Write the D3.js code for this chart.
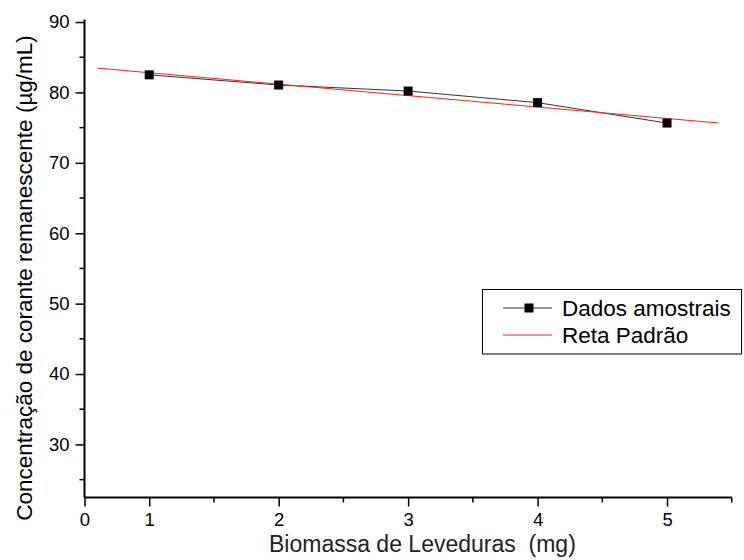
<!DOCTYPE html>
<html>
<head>
<meta charset="utf-8">
<script src="https://cdn.jsdelivr.net/npm/d3@7"></script>
<style>
  html, body { margin: 0; padding: 0; background: #fff; }
  svg { display: block; font-family: "Liberation Sans", Arial, sans-serif; }
</style>
</head>
<body>
<svg id="chart" width="744" height="560"></svg>
<script>
// Biomassa de leveduras (mg) vs. corante remanescente (µg/mL)
const biomassa = [1, 2, 3, 4, 5];
const concentracao = [82.5, 81.05, 80.2, 78.55, 75.65];

// Reta padrão (ajuste linear), endpoints
const retaX = [0.6, 5.4];
const retaY = [83.45, 75.65];

// Axis tick positions and labels
const xTickValues = [0.5, 1, 2, 3, 4, 5];
const xTickLabels = ["0", "1", "2", "3", "4", "5"];
const xMinorTicks = [1.5, 2.5, 3.5, 4.5, 5.5];
const yTickValues = [30, 40, 50, 60, 70, 80, 90];
const yMinorTicks = [25, 35, 45, 55, 65, 75, 85];

const legendLabels = ["Dados amostrais", "Reta Padrão"];

const svg = d3.select("#chart");
const plotL = 84.5, plotR = 731.75, plotT = 19.5, plotB = 497.5;

const x = d3.scaleLinear().domain([0.5, 5.5]).range([plotL, plotR]);
const y = d3.scaleLinear().domain([22.46, 90.36]).range([plotB, plotT]);

// X axis
const xAxis = svg.append("g").attr("transform", `translate(0,${plotB})`);
xAxis.call(d3.axisBottom(x).tickValues(xTickValues)
    .tickFormat((d, i) => xTickLabels[i]).tickSize(9).tickPadding(3).tickSizeOuter(0));
xAxis.append("g").selectAll("line").data(xMinorTicks).join("line")
  .attr("x1", d => x(d)).attr("x2", d => x(d)).attr("y1", 0).attr("y2", 5)
  .attr("stroke", "#000").attr("stroke-width", 1.5);

// Y axis
const yAxis = svg.append("g").attr("transform", `translate(${plotL},0)`);
yAxis.call(d3.axisLeft(y).tickValues(yTickValues).tickSize(9).tickPadding(6).tickSizeOuter(0));
yAxis.append("g").selectAll("line").data(yMinorTicks).join("line")
  .attr("y1", d => y(d)).attr("y2", d => y(d)).attr("x1", 0).attr("x2", -5)
  .attr("stroke", "#000").attr("stroke-width", 1.5);

[xAxis, yAxis].forEach(g => {
  g.select(".domain").attr("stroke", "#000").attr("stroke-width", 2);
  g.selectAll(".tick line").attr("stroke", "#000").attr("stroke-width", 1.5);
  g.selectAll(".tick text").attr("font-size", 18.5).attr("fill", "#000")
    .attr("font-family", "'Liberation Sans', Arial, sans-serif");
});
xAxis.selectAll(".tick text").attr("dy", "0.9em");
yAxis.select(".domain").attr("d", `M0,${plotT}V${plotB}`);
xAxis.select(".domain").attr("d", `M${plotL},0H${plotR}`);

// Axis titles
svg.append("text")
  .attr("x", 269).attr("y", 552)
  .attr("text-anchor", "start").attr("font-size", 23).attr("fill", "#222")
  .attr("xml:space", "preserve")
  .text("Biomassa de Leveduras  (mg)");

svg.append("text")
  .attr("transform", `translate(32,278) rotate(-90)`)
  .attr("text-anchor", "middle").attr("font-size", 22.5).attr("fill", "#000")
  .text("Concentração de corante remanescente (µg/mL)");

// Data line and markers
const pts = biomassa.map((b, i) => [b, concentracao[i]]);
svg.append("path")
  .datum(pts)
  .attr("fill", "none").attr("stroke", "#333").attr("stroke-width", 1)
  .attr("d", d3.line().x(d => x(d[0])).y(d => y(d[1])));

// Standard line
svg.append("path")
  .datum(retaX.map((v, i) => [v, retaY[i]]))
  .attr("fill", "none").attr("stroke", "#ff2020").attr("stroke-width", 1)
  .attr("d", d3.line().x(d => x(d[0])).y(d => y(d[1])));

svg.append("g").selectAll("rect").data(pts).join("rect")
  .attr("x", d => x(d[0]) - 4.5).attr("y", d => y(d[1]) - 4.5)
  .attr("width", 9).attr("height", 9).attr("fill", "#000");

// Legend
const lg = svg.append("g");
lg.append("rect").attr("x", 482.5).attr("y", 289.5).attr("width", 259).attr("height", 64.5)
  .attr("fill", "#fff").attr("stroke", "#000").attr("stroke-width", 1);
const rowsY = [308, 335];
lg.append("line").attr("x1", 503).attr("x2", 552).attr("y1", rowsY[0]).attr("y2", rowsY[0])
  .attr("stroke", "#333").attr("stroke-width", 1);
lg.append("rect").attr("x", 529 - 4.5).attr("y", rowsY[0] - 4.5).attr("width", 9).attr("height", 9).attr("fill", "#000");
lg.append("line").attr("x1", 503).attr("x2", 552).attr("y1", rowsY[1]).attr("y2", rowsY[1])
  .attr("stroke", "#ff2020").attr("stroke-width", 1);
lg.selectAll("text.lab").data(legendLabels).join("text")
  .attr("class", "lab")
  .attr("x", 562).attr("y", (d, i) => rowsY[i]).attr("dy", "0.36em")
  .attr("font-size", 22.5).attr("fill", "#000")
  .text(d => d);
</script>
</body>
</html>
